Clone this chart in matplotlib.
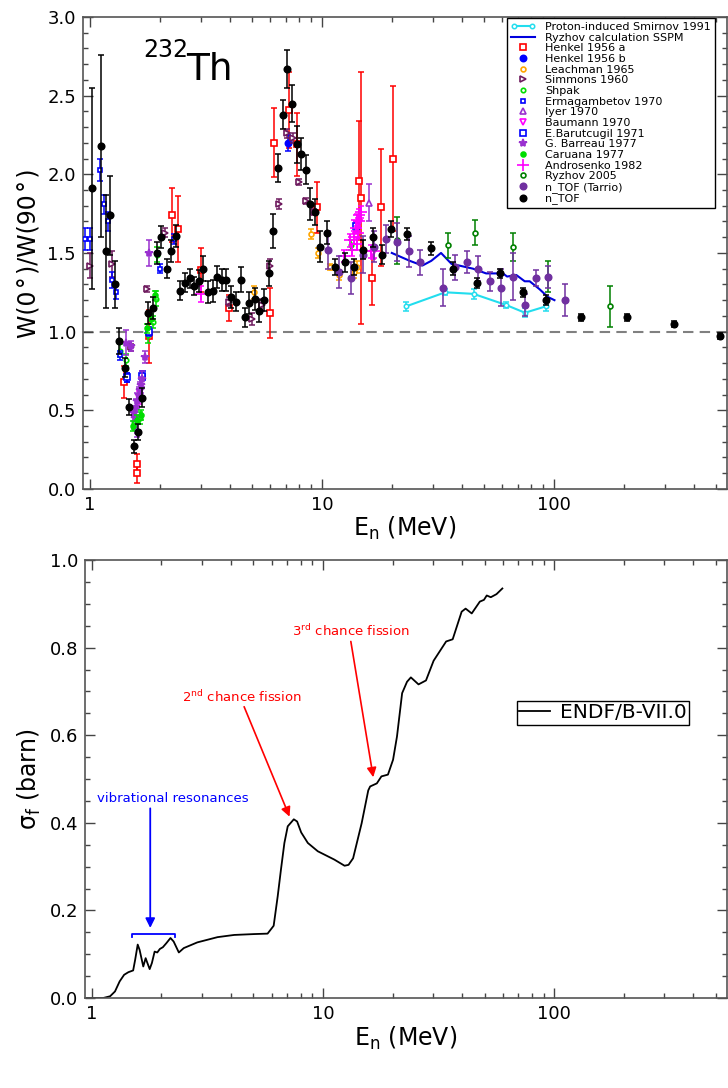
import numpy as np
import matplotlib.pyplot as plt
from matplotlib.legend_handler import HandlerLine2D
from matplotlib.ticker import (FixedLocator, LogLocator, NullFormatter,
                               MultipleLocator, FuncFormatter, FormatStrFormatter)

plt.rcParams['font.family'] = ['DejaVu Sans']
plt.rcParams['mathtext.fontset'] = 'dejavusans'

# ---------------- top panel data: W(0)/W(90) vs En (MeV) ----------------
smirnov_e = [23.0, 34.0, 45.0, 62.0, 75.0, 92.0]
smirnov_w = [1.16, 1.25, 1.24, 1.17, 1.12, 1.16]
smirnov_err = [0.03, 0.02, 0.03, 0.02, 0.03, 0.03]

ryzhov_calc_e = [20.0, 23.9, 27.1, 29.6, 32.6, 36.2, 39.0, 44.8, 51.0, 60.3,
                 62.8, 68.8, 74.8, 78.6, 86.6, 94.2, 100.5]
ryzhov_calc_w = [1.50, 1.45, 1.42, 1.45, 1.50, 1.43, 1.42, 1.40, 1.37, 1.37,
                 1.35, 1.36, 1.32, 1.32, 1.27, 1.22, 1.20]

henkel_a_e = [1.40, 1.59, 1.59, 1.80, 2.26, 2.40, 3.0, 3.99, 5.98, 6.22,
              7.18, 7.83, 9.56, 14.5, 14.7, 16.4, 17.9, 20.2]
henkel_a_w = [0.68, 0.16, 0.10, 0.97, 1.74, 1.65, 1.39, 1.15, 1.12, 2.20,
              2.41, 2.19, 1.79, 1.96, 1.85, 1.34, 1.79, 2.10]
henkel_a_err = [0.10, 0.06, 0.06, 0.17, 0.17, 0.21, 0.14, 0.08, 0.16, 0.22,
                0.24, 0.20, 0.16, 0.38, 0.80, 0.17, 0.37, 0.46]

henkel_b_e = [7.15]
henkel_b_w = [2.20]
henkel_b_err = [0.05]

leachman_e = [5.1, 8.94, 9.6, 10.8, 11.9, 13.7, 14.1]
leachman_w = [1.25, 1.62, 1.50, 1.41, 1.36, 1.38, 1.41]
leachman_err = [0.04, 0.03, 0.03, 0.02, 0.03, 0.04, 0.04]

simmons_e = [1.0, 1.25, 1.50, 1.76, 2.1, 3.99, 4.99, 5.5, 6.0, 6.5, 7.04,
             7.5, 8.0, 8.56, 9.2]
simmons_w = [1.42, 1.43, 0.90, 1.27, 1.63, 1.19, 1.08, 1.17, 1.42, 1.81,
             2.26, 2.23, 1.95, 1.83, 1.76]
simmons_err = [0.08, 0.08, 0.02, 0.02, 0.03, 0.03, 0.04, 0.04, 0.04, 0.03,
               0.03, 0.03, 0.02, 0.02, 0.02]

shpak_e = [1.35, 1.43, 1.55, 1.64, 1.78, 1.86, 1.92, 1.95, 13.4]
shpak_w = [0.88, 0.82, 0.42, 0.45, 0.98, 1.06, 1.21, 1.49, 1.55]
shpak_err = [0.04, 0.04, 0.04, 0.04, 0.05, 0.04, 0.05, 0.05, 0.03]

ermag_e = [0.95, 1.0, 1.10, 1.15, 1.20, 1.25, 1.30, 1.35, 1.45, 1.70, 2.0, 2.31]
ermag_w = [1.59, 1.59, 2.03, 1.81, 1.70, 1.33, 1.25, 0.85, 0.71, 0.72, 1.40, 1.59]
ermag_err = [0.07, 0.07, 0.07, 0.06, 0.06, 0.05, 0.04, 0.03, 0.03, 0.03, 0.03, 0.03]

iyer_e = [15.9]
iyer_w = [1.82]
iyer_err = [0.12]

baumann_e = [1.62, 14.3, 16.6]
baumann_w = [0.58, 1.68, 1.50]
baumann_err = [0.04, 0.04, 0.04]

barutcugil_e = [1.44, 1.68, 1.80, 14.0]
barutcugil_w = [0.71, 0.72, 1.00, 1.67]
barutcugil_err = [0.03, 0.03, 0.03, 0.03]

barreau_e = [1.43, 1.50, 1.55, 1.57, 1.58, 1.59, 1.60, 1.62, 1.64, 1.66,
             1.68, 1.73, 1.80]
barreau_w = [0.93, 0.91, 0.48, 0.45, 0.52, 0.37, 0.56, 0.60, 0.63, 0.66,
             0.70, 0.84, 1.50]
barreau_err = [0.08, 0.03, 0.05, 0.05, 0.05, 0.04, 0.05, 0.05, 0.05, 0.05,
               0.05, 0.04, 0.08]

caruana_e = [1.53, 1.59, 1.66, 1.76, 1.83, 1.90]
caruana_w = [0.40, 0.44, 0.47, 1.02, 1.08, 1.23]
caruana_err = [0.03, 0.03, 0.03, 0.03, 0.03, 0.03]

androsenko_e = [3.0, 12.4, 13.2, 13.5, 13.8, 14.0, 14.1, 14.2, 14.3, 14.4,
                14.5, 14.7, 16.3, 16.7]
androsenko_w = [1.24, 1.48, 1.58, 1.52, 1.60, 1.66, 1.56, 1.71, 1.63, 1.70,
                1.74, 1.76, 1.51, 1.51]
androsenko_err = [0.05, 0.04, 0.04, 0.04, 0.04, 0.04, 0.04, 0.04, 0.04, 0.04,
                  0.04, 0.04, 0.04, 0.04]

ryzhov05_e = [21.0, 35.1, 45.9, 66.9, 94.6, 174.0]
ryzhov05_w = [1.58, 1.55, 1.63, 1.54, 1.35, 1.16]
ryzhov05_err = [0.15, 0.08, 0.08, 0.09, 0.10, 0.13]

tarrio_e = [10.6, 11.9, 13.3, 15.0, 16.8, 18.8, 21.0, 23.7, 26.5, 33.3, 37.3,
            42.1, 47.2, 52.9, 59.3, 66.6, 74.7, 83.7, 94.0, 112.0]
tarrio_w = [1.52, 1.38, 1.34, 1.49, 1.54, 1.59, 1.57, 1.51, 1.44, 1.28, 1.41,
            1.44, 1.40, 1.32, 1.28, 1.35, 1.17, 1.34, 1.35, 1.20]
tarrio_err = [0.12, 0.10, 0.10, 0.12, 0.10, 0.09, 0.12, 0.10, 0.08, 0.12, 0.08,
              0.07, 0.08, 0.06, 0.12, 0.15, 0.07, 0.05, 0.07, 0.10]

ntof_e = [1.023, 1.12, 1.17, 1.22, 1.28, 1.34, 1.41, 1.47, 1.55, 1.61, 1.68,
          1.77, 1.86, 1.94, 2.03, 2.14, 2.24, 2.34, 2.45, 2.57, 2.69, 2.81,
          2.94, 3.08, 3.23, 3.38, 3.53, 3.70, 3.87, 4.06, 4.25, 4.46, 4.66,
          4.87, 5.12, 5.36, 5.62, 5.89, 6.17, 6.45, 6.76, 7.09, 7.42, 7.77,
          8.12, 8.50, 8.90, 9.33, 9.77, 10.5, 11.4, 12.6, 13.8, 15.1, 16.6,
          18.2, 19.8, 23.3, 29.5, 36.8, 46.5, 58.5, 73.8, 92.7, 131.0, 207.0,
          330.0, 521.0]
ntof_w = [1.91, 2.18, 1.51, 1.74, 1.30, 0.94, 0.77, 0.52, 0.27, 0.36, 0.58,
          1.12, 1.15, 1.50, 1.60, 1.40, 1.51, 1.61, 1.26, 1.31, 1.34, 1.29,
          1.32, 1.40, 1.25, 1.26, 1.35, 1.33, 1.33, 1.22, 1.19, 1.33, 1.09,
          1.18, 1.21, 1.13, 1.20, 1.37, 1.64, 2.04, 2.38, 2.67, 2.45, 2.19,
          2.13, 2.03, 1.81, 1.76, 1.54, 1.63, 1.41, 1.44, 1.41, 1.52, 1.60,
          1.49, 1.65, 1.62, 1.53, 1.40, 1.31, 1.37, 1.25, 1.20, 1.09, 1.09,
          1.05, 0.97]
ntof_err = [0.64, 0.58, 0.36, 0.25, 0.15, 0.08, 0.06, 0.05, 0.04, 0.05, 0.06,
            0.07, 0.07, 0.07, 0.07, 0.06, 0.07, 0.07, 0.06, 0.06, 0.06, 0.06,
            0.07, 0.08, 0.07, 0.07, 0.07, 0.07, 0.07, 0.07, 0.06, 0.08, 0.06,
            0.07, 0.07, 0.07, 0.07, 0.08, 0.11, 0.09, 0.09, 0.12, 0.12, 0.12,
            0.10, 0.09, 0.10, 0.08, 0.10, 0.07, 0.05, 0.06, 0.05, 0.06, 0.06,
            0.06, 0.05, 0.04, 0.04, 0.04, 0.03, 0.03, 0.03, 0.03, 0.02, 0.02,
            0.02, 0.02]

# ---------------- bottom panel: ENDF/B-VII.0 fission cross section ----------------
endf_e = [0.95, 1.0, 1.12, 1.20, 1.26, 1.32, 1.38, 1.44, 1.51, 1.54, 1.58,
          1.61, 1.67, 1.71, 1.74, 1.78, 1.82, 1.87, 1.92, 1.97, 2.03, 2.10,
          2.19, 2.26, 2.38, 2.50, 2.86, 3.50, 4.13, 5.04, 5.76, 6.12, 6.37,
          6.58, 6.81, 7.04, 7.48, 7.73, 8.05, 8.60, 9.50, 11.2, 12.4, 12.9,
          13.5, 14.7, 15.7, 16.0, 17.1, 17.9, 19.1, 20.1, 20.9, 22.0, 23.1,
          24.0, 25.9, 27.9, 30.1, 34.1, 36.4, 39.8, 41.4, 44.0, 47.7, 49.7,
          51.1, 53.2, 56.3, 59.7]
endf_sigma = [0.0, 0.0, 0.0, 0.004, 0.015, 0.038, 0.053, 0.059, 0.063, 0.087,
              0.122, 0.110, 0.072, 0.091, 0.080, 0.066, 0.080, 0.106, 0.104,
              0.112, 0.116, 0.125, 0.137, 0.129, 0.104, 0.114, 0.127, 0.139,
              0.144, 0.146, 0.147, 0.165, 0.232, 0.293, 0.354, 0.392, 0.408,
              0.403, 0.378, 0.354, 0.335, 0.316, 0.302, 0.304, 0.319, 0.399,
              0.474, 0.483, 0.490, 0.506, 0.510, 0.544, 0.597, 0.696, 0.722,
              0.732, 0.716, 0.725, 0.770, 0.814, 0.819, 0.882, 0.889, 0.878,
              0.905, 0.909, 0.919, 0.915, 0.922, 0.935]

fig = plt.figure(figsize=(7.28, 10.88), dpi=100)
ax1 = fig.add_axes([0.114, 0.5506, 0.8846, 0.4338])
ax2 = fig.add_axes([0.1168, 0.0827, 0.882, 0.4026])

# (label, x, y, err, color, marker, size, filled)
series = [
    ("Henkel 1956 a", henkel_a_e, henkel_a_w, henkel_a_err, '#ff0000', 's', 4.5, False),
    ("Henkel 1956 b", henkel_b_e, henkel_b_w, henkel_b_err, '#0000ff', 'o', 4.5, True),
    ("Leachman 1965", leachman_e, leachman_w, leachman_err, '#ffa500', 'o', 3.5, False),
    ("Simmons 1960", simmons_e, simmons_w, simmons_err, '#6e1a5e', '>', 4.5, False),
    ("Shpak", shpak_e, shpak_w, shpak_err, '#00dd00', 'o', 3.2, False),
    ("Ermagambetov 1970", ermag_e, ermag_w, ermag_err, '#0000ff', 's', 3.0, False),
    ("Iyer 1970", iyer_e, iyer_w, iyer_err, '#9a30d0', '^', 4.5, False),
    ("Baumann 1970", baumann_e, baumann_w, baumann_err, '#ff00ff', 'v', 4.5, False),
    ("E.Barutcugil 1971", barutcugil_e, barutcugil_w, barutcugil_err, '#0000ff', 's', 4.5, False),
    ("G. Barreau 1977", barreau_e, barreau_w, barreau_err, '#9a30d0', '*', 6, True),
    ("Caruana 1977", caruana_e, caruana_w, caruana_err, '#00dd00', 'o', 3.5, True),
    ("Androsenko 1982", androsenko_e, androsenko_w, androsenko_err, '#ff00ff', '+', 9, True),
    ("Ryzhov 2005", ryzhov05_e, ryzhov05_w, ryzhov05_err, '#008000', 'o', 3.5, False),
    ("n_TOF (Tarrio)", tarrio_e, tarrio_w, tarrio_err, '#7030a0', 'o', 4.6, True),
    ("n_TOF", ntof_e, ntof_w, ntof_err, '#000000', 'o', 4.6, True),
]

ax1.axhline(1.0, color='#808080', lw=1.5, ls=(0, (5, 3)), zorder=1)

# Smirnov proton-induced data and Ryzhov calculation lines
cyan = '#22ddee'
ax1.errorbar(smirnov_e, smirnov_w, yerr=smirnov_err, fmt='none', ecolor=cyan,
             elinewidth=1.1, capsize=2.5, capthick=1.1, zorder=2)
h_smirnov, = ax1.plot(smirnov_e, smirnov_w, color=cyan, lw=1.5, marker='o', ms=3.2,
                      mfc='white', mec=cyan, mew=1.1, zorder=2,
                      label="Proton-induced Smirnov 1991")
h_ryzhov, = ax1.plot(ryzhov_calc_e, ryzhov_calc_w, color='#0000dd', lw=1.5, zorder=2,
                     label="Ryzhov calculation SSPM")

handles = [h_smirnov, h_ryzhov]
for i, (lab, x, y, err, c, m, s, filled) in enumerate(series):
    z = 3 + i * 0.1
    ax1.errorbar(x, y, yerr=err, fmt='none', ecolor=c, elinewidth=1.1,
                 capsize=2.5, capthick=1.1, zorder=z)
    h, = ax1.plot(x, y, ls='none', marker=m, ms=s, color=c,
                  mfc=(c if filled else 'white'), mec=c, mew=1.2,
                  zorder=z + 0.05, label=lab)
    handles.append(h)

leg1 = ax1.legend(handles=handles, loc='upper left',
                  bbox_to_anchor=(507 / 728, 1 - 18 / 1088),
                  bbox_transform=fig.transFigure, fontsize=8, labelspacing=0.06,
                  frameon=True, fancybox=False, edgecolor='black', framealpha=1,
                  borderpad=0.35, handlelength=2.2, handletextpad=0.9,
                  borderaxespad=0,
                  handler_map={h_smirnov: HandlerLine2D(numpoints=2)}, numpoints=1)
leg1.get_frame().set_linewidth(1.0)


def style_axes(ax, ymajor, yminor):
    ax.set_xscale('log')
    ax.xaxis.set_major_locator(FixedLocator([1, 10, 100]))
    ax.xaxis.set_minor_locator(LogLocator(base=10, subs=np.arange(2, 10), numticks=30))
    ax.xaxis.set_major_formatter(FuncFormatter(lambda v, p: f'{v:g}'))
    ax.xaxis.set_minor_formatter(NullFormatter())
    ax.yaxis.set_major_locator(MultipleLocator(ymajor))
    ax.yaxis.set_minor_locator(MultipleLocator(yminor))
    ax.yaxis.set_major_formatter(FormatStrFormatter('%.1f'))
    ax.tick_params(which='both', direction='in', top=True, right=True,
                   labelsize=13, color='#444444')
    ax.tick_params(which='major', length=7, width=1.0, pad=5)
    ax.tick_params(which='minor', length=3.5, width=1.0)
    for sp in ax.spines.values():
        sp.set_color('#555555')
        sp.set_linewidth(1.2)


style_axes(ax1, 0.5, 0.1)
ax1.set_xlim(0.933, 557)
ax1.set_ylim(0, 3.0)
ax1.set_xlabel('E$_\\mathrm{n}$ (MeV)', fontsize=17, labelpad=1)
ax1.set_ylabel('W(0\u200a°\u200a)/W(90\u200a°\u200a)', fontsize=17, labelpad=5)

fig.text(143 / 728, 1 - 57 / 1088, '232', fontsize=17, va='baseline')
fig.text(186 / 728, 1 - 80 / 1088, 'Th', fontsize=27, va='baseline')

# bottom panel
ax2.plot(endf_e, endf_sigma, color='black', lw=1.3, label='ENDF/B-VII.0')
style_axes(ax2, 0.2, 0.05)
ax2.set_xlim(0.935, 560)
ax2.set_ylim(0, 1.0)
ax2.set_xlabel('E$_\\mathrm{n}$ (MeV)', fontsize=17, labelpad=1)
ax2.set_ylabel('σ$_\\mathrm{f}$ (barn)', fontsize=17, labelpad=5)

leg2 = ax2.legend(loc='upper left', bbox_to_anchor=(517 / 728, 1 - 701 / 1088),
                  bbox_transform=fig.transFigure, fontsize=14.5, frameon=True,
                  fancybox=False, edgecolor='black', framealpha=1, borderpad=0.12,
                  handlelength=1.5, handletextpad=0.5, borderaxespad=0)
leg2.get_frame().set_linewidth(1.0)

arrow_red = dict(arrowstyle='-|>', color='red', lw=1.2, mutation_scale=14,
                 shrinkA=0, shrinkB=0)
ax2.annotate('', xy=(7.17, 0.414), xytext=(4.56, 0.665), arrowprops=arrow_red)
ax2.annotate('', xy=(16.5, 0.504), xytext=(13.2, 0.814), arrowprops=arrow_red)
fig.text(182 / 728, 1 - 702 / 1088, '2$^{\\mathrm{nd}}$ chance fission',
         color='red', fontsize=9.5, va='baseline')
fig.text(292 / 728, 1 - 636 / 1088, '3$^{\\mathrm{rd}}$ chance fission',
         color='red', fontsize=9.5, va='baseline')

ax2.annotate('', xy=(1.79, 0.160), xytext=(1.79, 0.433),
             arrowprops=dict(arrowstyle='-|>', color='blue', lw=1.3,
                             mutation_scale=14, shrinkA=0, shrinkB=0))
ax2.plot([1.49, 1.49, 2.28, 2.28], [0.139, 0.146, 0.146, 0.139], color='blue', lw=1.3)
fig.text(97 / 728, 1 - 802 / 1088, 'vibrational resonances', color='blue',
         fontsize=9.5, va='baseline')

fig.savefig('out.png', dpi=100)
